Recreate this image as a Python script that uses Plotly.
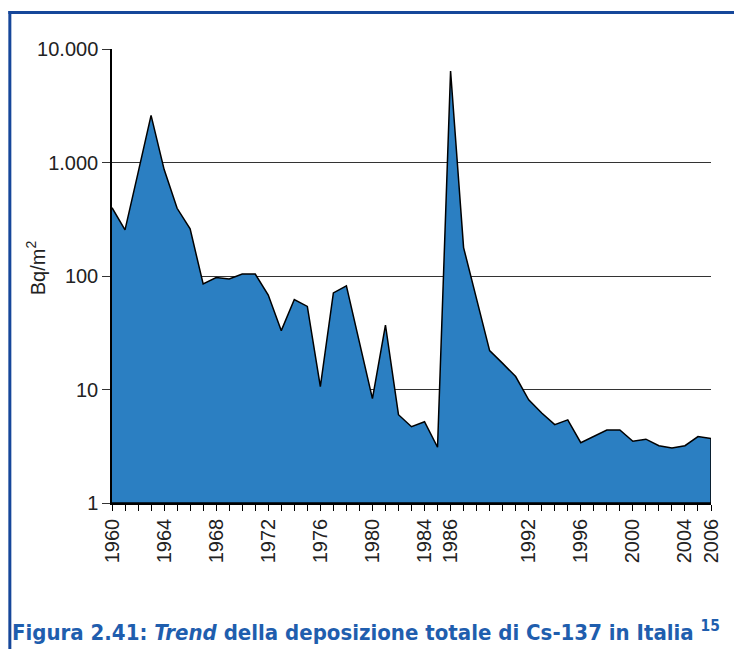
import plotly.graph_objects as go

# Annual total Cs-137 deposition in Italy (Bq/m2)
years = list(range(1960, 2007))
deposition = [
    400, 255, 810, 2600, 870, 395, 260, 85, 97, 94,
    104, 104, 68, 33, 62, 54, 10.6, 71, 82, 26,
    8.3, 37, 6.0, 4.7, 5.2, 3.1, 6400, 178, 62, 22,
    17, 13, 8.1, 6.2, 4.9, 5.4, 3.4, 3.85, 4.4, 4.4,
    3.5, 3.65, 3.2, 3.05, 3.2, 3.85, 3.7,
]

x_tick_years = [1960, 1964, 1968, 1972, 1976, 1980, 1984, 1986,
                1992, 1996, 2000, 2004, 2006]
y_tick_vals = [1, 10, 100, 1000, 10000]
y_tick_text = ["1", "10", "100", "1.000", "10.000"]

caption = ("<b>Figura 2.41: <i>Trend</i> della deposizione totale di "
           "Cs-137 in Italia <sup>15</sup></b>")
y_title = "Bq/m<sup>2</sup>"

AREA_BLUE = "#2b7fc2"
FRAME_BLUE = "#16479a"
CAPTION_BLUE = "#1f5eae"
FONT = "Liberation Sans, Arial, sans-serif"
CAPTION_FONT = "DejaVu Sans Condensed, sans-serif"

# closed polygon: series on top, back along the axis floor (y = 1)
poly_x = years + [years[-1], years[0]]
poly_y = deposition + [1, 1]

fig = go.Figure()
fig.add_trace(go.Scatter(
    x=poly_x, y=poly_y, mode="lines", fill="toself",
    fillcolor=AREA_BLUE, line=dict(color="black", width=1.5),
    hoverinfo="skip", showlegend=False,
))

W, H = 734, 649
L, R, T, B = 112, 21, 49, 146
pw, ph = W - L - R, H - T - B


def px_x(p):
    return (p - L) / pw


def px_y(p):
    return (H - B - p) / ph


fig.update_layout(
    width=W, height=H, autosize=False,
    margin=dict(l=L, r=R, t=T, b=B, pad=0),
    paper_bgcolor="white", plot_bgcolor="white",
    font=dict(family=FONT, color="#222222", size=20),
    xaxis=dict(
        range=[1960, 2006], showline=True, linecolor="black", linewidth=1.5,
        showgrid=False, zeroline=False,
        tickmode="array", tickvals=x_tick_years,
        ticktext=[str(y) for y in x_tick_years],
        ticks="outside", ticklen=6, tickwidth=1, tickcolor="black",
        tickangle=-90, tickfont=dict(size=20, family=FONT, color="#222222"),
        minor=dict(dtick=1, tick0=1960, ticks="outside", ticklen=6,
                   tickwidth=1, tickcolor="black", showgrid=False),
    ),
    yaxis=dict(
        type="log", range=[0, 4], showline=True, linecolor="black",
        linewidth=1.5, showgrid=True, gridcolor="#333333", gridwidth=1,
        tickmode="array", tickvals=y_tick_vals, ticktext=y_tick_text,
        ticks="outside", ticklen=8, tickwidth=1, tickcolor="#333333",
        tickfont=dict(size=20, family=FONT, color="#222222"),
    ),
    annotations=[
        dict(text=y_title, xref="paper", yref="paper",
             x=px_x(35), y=px_y(268), xanchor="center", yanchor="middle",
             textangle=-90, showarrow=False,
             font=dict(size=20, family=FONT, color="#222222")),
        dict(text=caption, xref="paper", yref="paper",
             x=px_x(10), y=px_y(631), xanchor="left", yanchor="middle",
             showarrow=False,
             font=dict(size=22, color=CAPTION_BLUE, family=CAPTION_FONT)),
    ],
    shapes=[
        dict(type="line", xref="paper", yref="paper",
             x0=px_x(9.5), x1=px_x(9.5), y0=px_y(11), y1=px_y(660),
             line=dict(color=FRAME_BLUE, width=3), layer="above"),
        dict(type="line", xref="paper", yref="paper",
             x0=px_x(8), x1=px_x(740), y0=px_y(12.5), y1=px_y(12.5),
             line=dict(color=FRAME_BLUE, width=3), layer="above"),
    ],
)

fig.write_html("out.html")
